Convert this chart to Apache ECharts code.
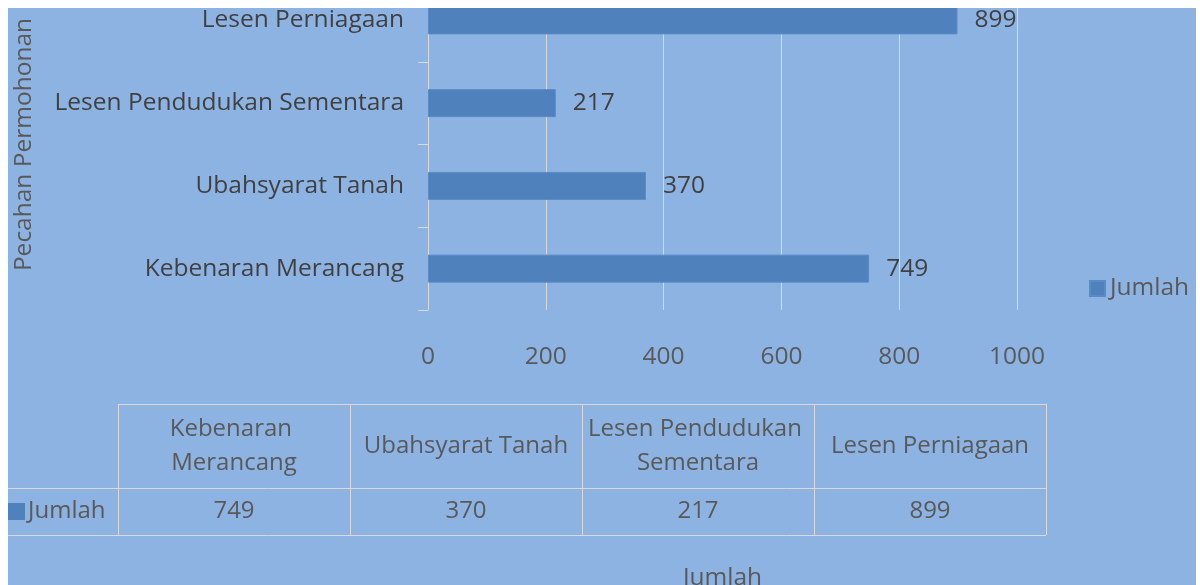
<!DOCTYPE html>
<html>
<head>
<meta charset="utf-8">
<script src="https://cdn.jsdelivr.net/npm/echarts@6/dist/echarts.min.js"></script>
<style>
  body { margin: 0; background: #ffffff; overflow: hidden; }
  #chart { position: absolute; left: 8px; top: -21px; width: 1188px; height: 606px; }
  #mask { position: absolute; left: 0; top: 0; width: 1200px; height: 8px; background: #ffffff; }
</style>
</head>
<body>
<div id="chart"></div>
<div id="mask"></div>
<script>
// data
const categories = ['Kebenaran Merancang', 'Ubahsyarat Tanah', 'Lesen Pendudukan Sementara', 'Lesen Perniagaan']
const jumlah = [749, 370, 217, 899]
const xTicks = [0, 200, 400, 600, 800, 1000]
const seriesName = 'Jumlah'
const yAxisTitle = 'Pecahan Permohonan'
const xAxisTitle = 'Jumlah'

const FONT = 'Open Sans'
const FS = 24.5
const TFS = 24
const BAR = '#4F81BD'
const LINE = '#D9D9D9'
const DARK = '#404040'
const GREY = '#595959'

// data table under the chart (chart div starts 21px above the page)
const tbl = { left: 110, top: 425, colW: 232, headH: 84, rowH: 47 }
function buildTable () {
  const els = []
  const right = tbl.left + categories.length * tbl.colW
  const yHead = tbl.top + tbl.headH
  const yBot = yHead + tbl.rowH
  const font = TFS + 'px "' + FONT + '"'
  const hline = (x1, x2, y) => ({ type: 'line', shape: { x1: x1, y1: y + 0.5, x2: x2, y2: y + 0.5 }, style: { stroke: LINE, lineWidth: 1 } })
  els.push(hline(tbl.left, right, tbl.top))
  els.push(hline(0, right, yHead))
  els.push(hline(0, right, yBot))
  for (let i = 0; i <= categories.length; i++) {
    const x = tbl.left + i * tbl.colW + 0.5
    els.push({ type: 'line', shape: { x1: x, y1: tbl.top, x2: x, y2: yBot }, style: { stroke: LINE, lineWidth: 1 } })
  }
  categories.forEach((c, i) => {
    const cx = tbl.left + i * tbl.colW + tbl.colW / 2
    els.push({
      type: 'text', x: cx, y: tbl.top + tbl.headH / 2,
      style: { text: c, width: tbl.colW - 10, overflow: 'break', align: 'center', verticalAlign: 'middle', fill: GREY, font: font, lineHeight: 34 }
    })
    els.push({
      type: 'text', x: cx, y: yHead + tbl.rowH / 2,
      style: { text: String(jumlah[i]), align: 'center', verticalAlign: 'middle', fill: GREY, font: font }
    })
  })
  // legend key in the table row
  els.push({ type: 'rect', shape: { x: 0, y: yHead + 15, width: 17, height: 17 }, style: { fill: BAR } })
  els.push({
    type: 'text', x: 20, y: yHead + tbl.rowH / 2,
    style: { text: seriesName, align: 'left', verticalAlign: 'middle', fill: GREY, font: font }
  })
  return els
}

const chart = echarts.init(document.getElementById('chart'))
chart.setOption({
  backgroundColor: '#8DB3E2',
  animation: false,
  textStyle: { fontFamily: FONT },
  grid: { left: 420, right: 179, top: 0, bottom: 275, outerBoundsMode: 'none', containLabel: false },
  legend: {
    data: [seriesName],
    left: 1081, top: 297, padding: 0,
    itemWidth: 15, itemHeight: 15,
    icon: 'rect',
    textStyle: { color: GREY, fontSize: FS, fontFamily: FONT }
  },
  xAxis: {
    type: 'value',
    min: xTicks[0],
    max: xTicks[xTicks.length - 1],
    interval: xTicks[1] - xTicks[0],
    name: xAxisTitle,
    nameLocation: 'middle',
    nameGap: 256,
    nameTextStyle: { color: GREY, fontSize: FS },
    axisLine: { show: false },
    axisTick: { show: false },
    axisLabel: { color: GREY, fontSize: FS, margin: 35, formatter: v => String(v) },
    splitLine: { lineStyle: { color: LINE, width: 1 } }
  },
  yAxis: {
    type: 'category',
    data: categories,
    name: yAxisTitle,
    nameLocation: 'middle',
    nameGap: 391,
    nameRotate: 90,
    nameTextStyle: { color: GREY, fontSize: FS },
    axisLine: { show: true, lineStyle: { color: LINE, width: 1 } },
    axisTick: { show: true, length: 10, lineStyle: { color: LINE } },
    axisLabel: { color: DARK, fontSize: FS, margin: 24 }
  },
  series: [{
    name: seriesName,
    type: 'bar',
    data: jumlah,
    barWidth: 28,
    itemStyle: { color: BAR, borderColor: '#5A8BC6', borderWidth: 1 },
    label: { show: true, position: 'right', distance: 17, color: DARK, fontSize: FS }
  }],
  graphic: buildTable()
})
</script>
</body>
</html>
